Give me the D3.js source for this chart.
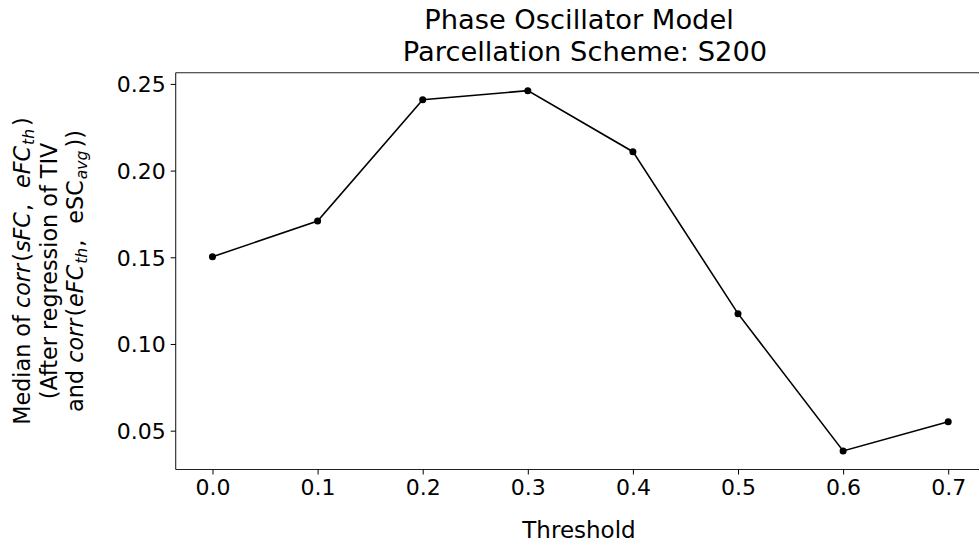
<!DOCTYPE html>
<html>
<head>
<meta charset="utf-8">
<script src="https://cdn.jsdelivr.net/npm/d3@7"></script>
<style>
  html, body { margin: 0; padding: 0; background: #fff; }
  svg { display: block; overflow: hidden; }
  text { font-family: "DejaVu Sans", sans-serif; fill: #000; }
</style>
</head>
<body>
<svg id="chart" width="979" height="548"></svg>
<script>
const thresholds = [0.0, 0.1, 0.2, 0.3, 0.4, 0.5, 0.6, 0.7];
const medianCorr = [0.1503, 0.1709, 0.2409, 0.2461, 0.2109, 0.1175, 0.0383, 0.0552];
const xTicks = [0.0, 0.1, 0.2, 0.3, 0.4, 0.5, 0.6, 0.7];
const yTicks = [0.05, 0.10, 0.15, 0.20, 0.25];
const titleLines = ["Phase Oscillator Model", "Parcellation Scheme: S200"];
const xLabel = "Threshold";

const svg = d3.select("#chart");
const pLeft = 175.7, pRight = 985, pTop = 72.8, pBottom = 469.5;

const x = d3.scaleLinear().domain([-0.035, 0.735]).range([pLeft, pRight]);
const y = d3.scaleLinear().domain([0.0276, 0.2564]).range([pBottom, pTop]);

// spines
const spine = svg.append("g").attr("stroke", "#222").attr("stroke-width", 1.1).attr("fill", "none");
spine.append("line").attr("x1", pLeft).attr("x2", pLeft).attr("y1", pTop).attr("y2", pBottom);
spine.append("line").attr("x1", pLeft).attr("x2", pRight).attr("y1", pTop).attr("y2", pTop);
spine.append("line").attr("x1", pLeft).attr("x2", pRight).attr("y1", pBottom).attr("y2", pBottom);

// x axis
const xAxis = d3.axisBottom(x).tickValues(xTicks).tickFormat(d3.format(".1f")).tickSize(5).tickPadding(5);
const gx = svg.append("g").attr("transform", `translate(0,${pBottom})`).call(xAxis);
gx.select(".domain").remove();
gx.selectAll("text").attr("font-size", "22px").attr("font-family", "DejaVu Sans").attr("fill", "#000");
gx.selectAll("line").attr("stroke", "#000").attr("stroke-width", 1);

// y axis
const yAxis = d3.axisLeft(y).tickValues(yTicks).tickFormat(d3.format(".2f")).tickSize(5).tickPadding(5);
const gy = svg.append("g").attr("transform", `translate(${pLeft},0)`).call(yAxis);
gy.select(".domain").remove();
gy.selectAll("text").attr("font-size", "22px").attr("font-family", "DejaVu Sans").attr("fill", "#000").attr("dy", "0.36em");
gy.selectAll("line").attr("stroke", "#000").attr("stroke-width", 1);

// line
const data = thresholds.map((t, i) => ({t, v: medianCorr[i]}));
svg.append("path").datum(data)
  .attr("fill", "none").attr("stroke", "#000").attr("stroke-width", 1.6)
  .attr("d", d3.line().x(d => x(d.t)).y(d => y(d.v)));
svg.append("g").selectAll("circle").data(data).join("circle")
  .attr("cx", d => x(d.t)).attr("cy", d => y(d.v)).attr("r", 3.5).attr("fill", "#000");

// title
svg.append("text").attr("x", 579).attr("y", 29).attr("text-anchor", "middle").attr("font-size", "27.3px").text(titleLines[0]);
svg.append("text").attr("x", 585).attr("y", 61).attr("text-anchor", "middle").attr("font-size", "27.3px").text(titleLines[1]);

// x label
svg.append("text").attr("x", 579).attr("y", 538).attr("text-anchor", "middle").attr("font-size", "23px").text(xLabel);

// y label (three lines, rotated)
const ylab = svg.append("g").attr("transform", "translate(0,271) rotate(-90)");
function addLine(ypos, parts) {
  const t = ylab.append("text").attr("x", 0).attr("y", ypos).attr("text-anchor", "middle").attr("font-size", "22.3px");
  parts.forEach(p => {
    const ts = t.append("tspan").text(p.s);
    if (p.i) ts.attr("font-style", "italic");
    if (p.dx) ts.attr("dx", p.dx);
    if (p.sub) ts.attr("font-size", "15.6px").attr("baseline-shift", "-25%");
  });
}
addLine(30, [
  {s: "Median of "}, {s: "corr", i: 1}, {s: "(", dx: 2}, {s: "sFC", i: 1, dx: 1}, {s: ",", dx: 1},
  {s: "eFC", i: 1, dx: 16}, {s: "th", i: 1, sub: 1, dx: 1}, {s: ")", dx: 3}
]);
addLine(57, [{s: "(After regression of TIV"}]);
addLine(83, [
  {s: "and "}, {s: "corr", i: 1}, {s: "(", dx: 2}, {s: "eFC", i: 1, dx: 1}, {s: "th", i: 1, sub: 1, dx: 1},
  {s: ",", dx: 1}, {s: "eSC", dx: 16}, {s: "avg", i: 1, sub: 1, dx: 1}, {s: "))", dx: 3}
]);
</script>
</body>
</html>
